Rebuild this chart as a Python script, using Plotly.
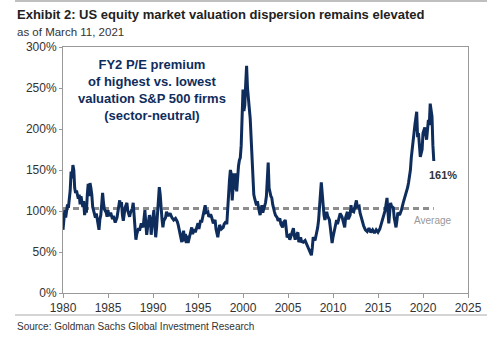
import plotly.graph_objects as go

years = [1980.0,1980.1,1980.2,1980.3,1980.4,1980.5,1980.6,1980.7,1980.8,1980.9,1981.0,1981.1,1981.2,1981.3,1981.4,1981.5,1981.7,1981.8,1981.9,1982.0,1982.1,1982.2,1982.3,1982.4,1982.5,1982.6,1982.7,1982.8,1982.9,1983.0,1983.1,1983.2,1983.3,1983.5,1983.6,1983.7,1983.8,1983.9,1984.0,1984.1,1984.2,1984.3,1984.4,1984.5,1984.6,1984.8,1984.9,1985.0,1985.1,1985.3,1985.5,1985.6,1985.8,1986.0,1986.1,1986.3,1986.4,1986.5,1986.6,1986.7,1986.9,1987.1,1987.2,1987.4,1987.5,1987.7,1987.8,1987.9,1988.0,1988.1,1988.2,1988.4,1988.5,1988.7,1988.9,1989.0,1989.1,1989.2,1989.3,1989.4,1989.6,1989.7,1989.8,1989.9,1990.0,1990.1,1990.2,1990.3,1990.4,1990.5,1990.6,1990.7,1990.8,1990.9,1991.0,1991.1,1991.2,1991.4,1991.5,1991.7,1991.9,1992.1,1992.3,1992.5,1992.7,1992.8,1993.0,1993.1,1993.2,1993.3,1993.4,1993.5,1993.6,1993.7,1993.8,1993.9,1994.0,1994.2,1994.3,1994.4,1994.6,1994.7,1994.9,1995.0,1995.1,1995.3,1995.4,1995.6,1995.7,1995.8,1995.9,1996.1,1996.2,1996.4,1996.5,1996.7,1996.9,1997.0,1997.2,1997.3,1997.4,1997.6,1997.8,1997.9,1998.1,1998.2,1998.3,1998.4,1998.5,1998.6,1998.7,1998.8,1998.9,1999.0,1999.1,1999.2,1999.3,1999.4,1999.5,1999.6,1999.7,1999.8,1999.9,2000.0,2000.1,2000.2,2000.3,2000.4,2000.5,2000.6,2000.7,2000.8,2000.9,2001.0,2001.1,2001.2,2001.3,2001.5,2001.6,2001.7,2001.8,2001.9,2002.0,2002.1,2002.2,2002.3,2002.4,2002.5,2002.6,2002.7,2002.8,2002.9,2003.0,2003.1,2003.2,2003.3,2003.5,2003.6,2003.8,2003.9,2004.1,2004.2,2004.4,2004.5,2004.7,2004.8,2004.9,2005.1,2005.2,2005.4,2005.6,2005.7,2005.8,2005.9,2006.1,2006.2,2006.4,2006.5,2006.7,2006.9,2007.1,2007.3,2007.4,2007.5,2007.6,2007.7,2007.8,2008.0,2008.2,2008.3,2008.4,2008.5,2008.6,2008.7,2008.8,2008.9,2009.0,2009.1,2009.3,2009.4,2009.6,2009.7,2009.8,2009.9,2010.0,2010.2,2010.4,2010.5,2010.7,2010.8,2011.0,2011.1,2011.3,2011.4,2011.6,2011.7,2011.9,2012.0,2012.1,2012.3,2012.4,2012.6,2012.7,2012.9,2013.0,2013.2,2013.4,2013.6,2013.8,2014.0,2014.2,2014.4,2014.6,2014.8,2015.0,2015.2,2015.4,2015.6,2015.8,2016.0,2016.1,2016.2,2016.3,2016.4,2016.5,2016.7,2016.8,2017.0,2017.1,2017.2,2017.4,2017.6,2017.8,2018.0,2018.2,2018.3,2018.4,2018.6,2018.7,2018.9,2019.0,2019.1,2019.3,2019.4,2019.5,2019.7,2019.9,2020.0,2020.2,2020.3,2020.4,2020.6,2020.7,2020.8,2020.9,2021.0,2021.1,2021.2]

premium = [77,95,101,92,100,108,104,112,125,148,140,156,150,128,122,125,115,120,108,118,110,105,112,95,103,98,120,133,118,134,128,120,105,98,92,97,90,86,77,90,95,108,122,110,102,98,93,101,94,98,90,94,86,92,98,113,105,111,95,88,104,110,100,93,98,103,110,95,80,65,72,79,76,85,80,95,101,85,71,80,95,90,71,85,95,101,82,68,80,100,117,129,120,101,90,80,88,92,99,94,97,92,89,91,87,83,72,65,62,70,76,63,72,61,70,61,66,73,80,72,78,74,82,85,78,89,86,95,100,107,98,99,93,96,93,85,89,78,68,75,83,78,80,84,87,84,105,118,138,150,145,113,130,146,126,146,124,150,155,162,165,180,205,248,222,229,255,277,250,241,225,213,190,168,128,120,115,107,112,104,100,95,100,107,98,102,104,110,118,150,159,128,120,118,116,108,99,95,92,88,91,84,80,86,89,75,68,70,65,72,79,70,65,70,74,62,68,63,62,64,59,55,52,50,46,55,68,64,74,80,89,100,120,135,117,100,95,89,99,94,89,80,70,61,68,80,89,84,92,97,93,89,80,92,99,90,95,107,100,99,104,113,105,106,98,89,82,77,75,79,74,77,73,77,74,78,85,93,101,116,100,85,98,110,106,104,92,80,88,98,95,101,110,117,124,129,135,150,165,187,195,205,221,190,195,166,175,195,202,190,187,211,205,231,220,215,180,161]

average_value = 103
avg_span = [1980.0, 2021.2]
last_label = "161%"

navy = "#0f2d5c"
font_family = "Arial, Liberation Sans, sans-serif"

fig = go.Figure()
fig.add_trace(go.Scatter(x=avg_span, y=[average_value]*2, mode="lines",
                         line=dict(color="#8c8c8c", width=3, dash="6px,4px"),
                         hoverinfo="skip", showlegend=False))
fig.add_trace(go.Scatter(x=years, y=premium, mode="lines",
                         line=dict(color=navy, width=3), showlegend=False))

fig.update_layout(
    width=499, height=338,
    margin=dict(l=63, r=31, t=47, b=45),
    paper_bgcolor="white", plot_bgcolor="white",
    font=dict(family=font_family, color="#333333", size=12),
    showlegend=False,
)
fig.update_xaxes(range=[1980, 2025], tickmode="array", tickvals=[1980,1985,1990,1995,2000,2005,2010,2015,2020,2025],
                 ticktext=["1980","1985","1990","1995","2000","2005","2010","2015","2020","2025"],
                 showgrid=False, zeroline=False, showline=True, linecolor="#999999", linewidth=1, mirror=True,
                 ticks="outside", ticklen=4, tickcolor="#999999", tickfont=dict(size=12, color="#333333"))
fig.update_yaxes(range=[0, 300], tickmode="array", tickvals=[0,50,100,150,200,250,300],
                 ticktext=["0%","50%","100%","150%","200%","250%","300%"],
                 showgrid=False, zeroline=False, showline=True, linecolor="#999999", linewidth=1, mirror=True,
                 ticks="outside", ticklen=3, tickcolor="#999999", tickfont=dict(size=12, color="#333333"))

fig.add_annotation(xref="paper", yref="paper", x=(15-63)/405, y=(293-14)/246, xanchor="left", yanchor="middle",
                   text="<b>Exhibit 2: US equity market valuation dispersion remains elevated</b>",
                   showarrow=False, font=dict(size=13, color="#222222"))
fig.add_annotation(xref="paper", yref="paper", x=(15-63)/405, y=(293-32)/246, xanchor="left", yanchor="middle",
                   text="as of March 11, 2021", showarrow=False, font=dict(size=11.5, color="#333333"))
fig.add_annotation(xref="paper", yref="paper", x=(15-63)/405, y=(293-326)/246, xanchor="left", yanchor="middle",
                   text="Source: Goldman Sachs Global Investment Research", showarrow=False,
                   font=dict(size=10, color="#333333"))
fig.add_annotation(x=1989.9, y=247, text="<b>FY2 P/E premium<br>of highest vs. lowest<br>valuation S&P 500 firms<br>(sector-neutral)</b>",
                   showarrow=False, align="center", xanchor="center", yanchor="middle",
                   font=dict(size=13, color=navy))
fig.add_annotation(x=2022.2, y=144, text="<b>" + last_label + "</b>", showarrow=False,
                   font=dict(size=11, color="#333333"))
fig.add_annotation(x=2021.1, y=89, text="Average", showarrow=False,
                   font=dict(size=10, color="#999999"))

fig.add_shape(type="line", xref="paper", yref="paper", x0=(15-63)/405, x1=(487-63)/405,
              y0=(293-1)/246, y1=(293-1)/246, line=dict(color="#aaaaaa", width=1.5))
fig.add_shape(type="line", xref="paper", yref="paper", x0=(15-63)/405, x1=(487-63)/405,
              y0=(293-315)/246, y1=(293-315)/246, line=dict(color="#aaaaaa", width=1))

fig.write_html("out.html")
